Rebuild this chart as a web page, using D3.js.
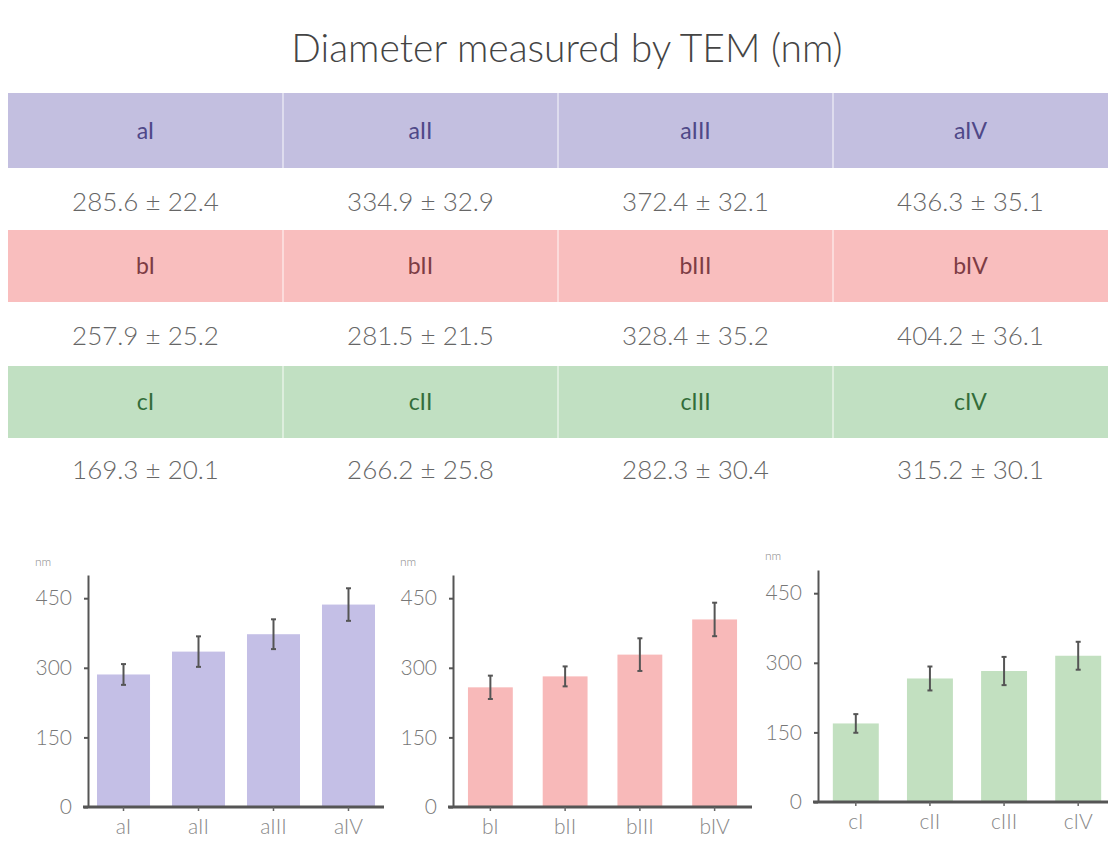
<!DOCTYPE html>
<html>
<head>
<meta charset="utf-8">
<script src="https://cdn.jsdelivr.net/npm/d3@7"></script>
<style>
  html, body { margin: 0; padding: 0; background: #fff; }
  svg { display: block; font-family: Lato, "Open Sans", sans-serif; }
</style>
</head>
<body>
<svg id="chart" width="1108" height="846"></svg>
<script>
// TEM diameters (nm) for three sample series, four sizes each
const groups = ["a", "b", "c"];
const sizes = ["I", "II", "III", "IV"];
const meansA = [285.6, 334.9, 372.4, 436.3];
const sdsA   = [22.4, 32.9, 32.1, 35.1];
const meansB = [257.9, 281.5, 328.4, 404.2];
const sdsB   = [25.2, 21.5, 35.2, 36.1];
const meansC = [169.3, 266.2, 282.3, 315.2];
const sdsC   = [20.1, 25.8, 30.4, 30.1];
const yTicks = [0, 150, 300, 450];
const yMax = 500;

const series = [
  { key: groups[0], means: meansA, sds: sdsA, fill: "#c4bfe6", head: "#c3bfe0", text: "#4f4888" },
  { key: groups[1], means: meansB, sds: sdsB, fill: "#f8b9b9", head: "#f9bebe", text: "#7d3c44" },
  { key: groups[2], means: meansC, sds: sdsC, fill: "#c2e0c0", head: "#c1e0c2", text: "#336d3a" }
];

const svg = d3.select("#chart");

// Title
svg.append("text")
  .attr("x", 567).attr("y", 62)
  .attr("text-anchor", "middle")
  .attr("font-size", 39)
  .attr("font-weight", 300)
  .attr("fill", "#444")
  .text("Diameter measured by TEM (nm)");

// ---- Summary table ----
const colX = d3.scaleBand().domain(sizes).range([8, 1108]);
const rowTops = [93, 230, 366];
const headH = [75, 72, 72];
const valueY = [211, 345, 479];

series.forEach((s, gi) => {
  const g = svg.append("g");
  g.append("rect")
    .attr("x", 8).attr("y", rowTops[gi])
    .attr("width", 1100).attr("height", headH[gi])
    .attr("fill", s.head);
  // column separators in header band
  sizes.slice(1).forEach(k => {
    g.append("line")
      .attr("x1", colX(k)).attr("x2", colX(k))
      .attr("y1", rowTops[gi]).attr("y2", rowTops[gi] + headH[gi])
      .attr("stroke", "#ffffff").attr("stroke-opacity", 0.45).attr("stroke-width", 2);
  });
  sizes.forEach((k, i) => {
    const cx = colX(k) + colX.bandwidth() / 2;
    g.append("text")
      .attr("x", cx).attr("y", rowTops[gi] + headH[gi] / 2 + 8)
      .attr("text-anchor", "middle")
      .attr("font-size", 23)
      .attr("fill", s.text)
      .text(s.key + k);
    g.append("text")
      .attr("x", cx).attr("y", valueY[gi])
      .attr("text-anchor", "middle")
      .attr("font-size", 26)
      .attr("font-weight", 300)
      .attr("fill", "#666")
      .text(`${s.means[i].toFixed(1)} ± ${s.sds[i].toFixed(1)}`);
  });
});

// ---- Bar panels ----
const panels = [
  { axisX: 88,  right: 384,  zeroY: 807, inner: 0.293, outer: 0.12, unitY: 566 },
  { axisX: 453, right: 752,  zeroY: 807, inner: 0.40,  outer: 0.20, unitY: 566 },
  { axisX: 818, right: 1116, zeroY: 802, inner: 0.38,  outer: 0.20, unitY: 560 }
];

series.forEach((s, gi) => {
  const p = panels[gi];
  const cats = sizes.map(k => s.key + k);
  const x = d3.scaleBand().domain(cats).range([p.axisX, p.right])
    .paddingInner(p.inner).paddingOuter(p.outer);
  const y = d3.scaleLinear().domain([0, yMax]).range([p.zeroY, p.zeroY - 232]);
  const g = svg.append("g");

  // bars
  g.selectAll("rect.bar").data(cats).join("rect")
    .attr("class", "bar")
    .attr("x", d => x(d))
    .attr("y", (d, i) => y(s.means[i]))
    .attr("width", x.bandwidth())
    .attr("height", (d, i) => y(0) - y(s.means[i]))
    .attr("fill", s.fill);

  // error bars
  const eb = g.selectAll("g.err").data(cats).join("g").attr("class", "err")
    .attr("stroke", "#555").attr("stroke-width", 2);
  eb.append("line")
    .attr("x1", d => x(d) + x.bandwidth() / 2).attr("x2", d => x(d) + x.bandwidth() / 2)
    .attr("y1", (d, i) => y(s.means[i] - s.sds[i]))
    .attr("y2", (d, i) => y(s.means[i] + s.sds[i]));
  [1, -1].forEach(sign => {
    eb.append("line")
      .attr("x1", d => x(d) + x.bandwidth() / 2 - 2.5).attr("x2", d => x(d) + x.bandwidth() / 2 + 2.5)
      .attr("y1", (d, i) => y(s.means[i] + sign * s.sds[i]))
      .attr("y2", (d, i) => y(s.means[i] + sign * s.sds[i]));
  });

  // y axis
  const ya = g.append("g")
    .attr("transform", `translate(${p.axisX},0)`)
    .call(d3.axisLeft(y).tickValues(yTicks).tickSize(4).tickSizeOuter(0).tickPadding(12));
  ya.select(".domain").attr("stroke", "#555").attr("stroke-width", 2);
  ya.selectAll(".tick line").attr("stroke", "#555").attr("stroke-width", 2);
  ya.selectAll(".tick text").attr("font-size", 21).attr("font-weight", 300).attr("fill", "#777")
    .attr("font-family", "Lato, sans-serif");

  // x axis
  const xa = g.append("g")
    .attr("transform", `translate(0,${p.zeroY})`)
    .call(d3.axisBottom(x).tickSize(4).tickSizeOuter(0).tickPadding(8));
  xa.select(".domain")
    .attr("d", `M${p.axisX - 5},0H${p.right}`)
    .attr("stroke", "#555").attr("stroke-width", 3);
  xa.selectAll(".tick line").attr("stroke", "#666").attr("stroke-width", 1.5);
  xa.selectAll(".tick text").attr("font-size", 21).attr("font-weight", 300).attr("fill", "#888")
    .attr("font-family", "Lato, sans-serif");

  // unit label
  g.append("text")
    .attr("x", p.axisX - 53).attr("y", p.unitY)
    .attr("font-size", 12).attr("font-weight", 300).attr("fill", "#888")
    .text("nm");
});
</script>
</body>
</html>
